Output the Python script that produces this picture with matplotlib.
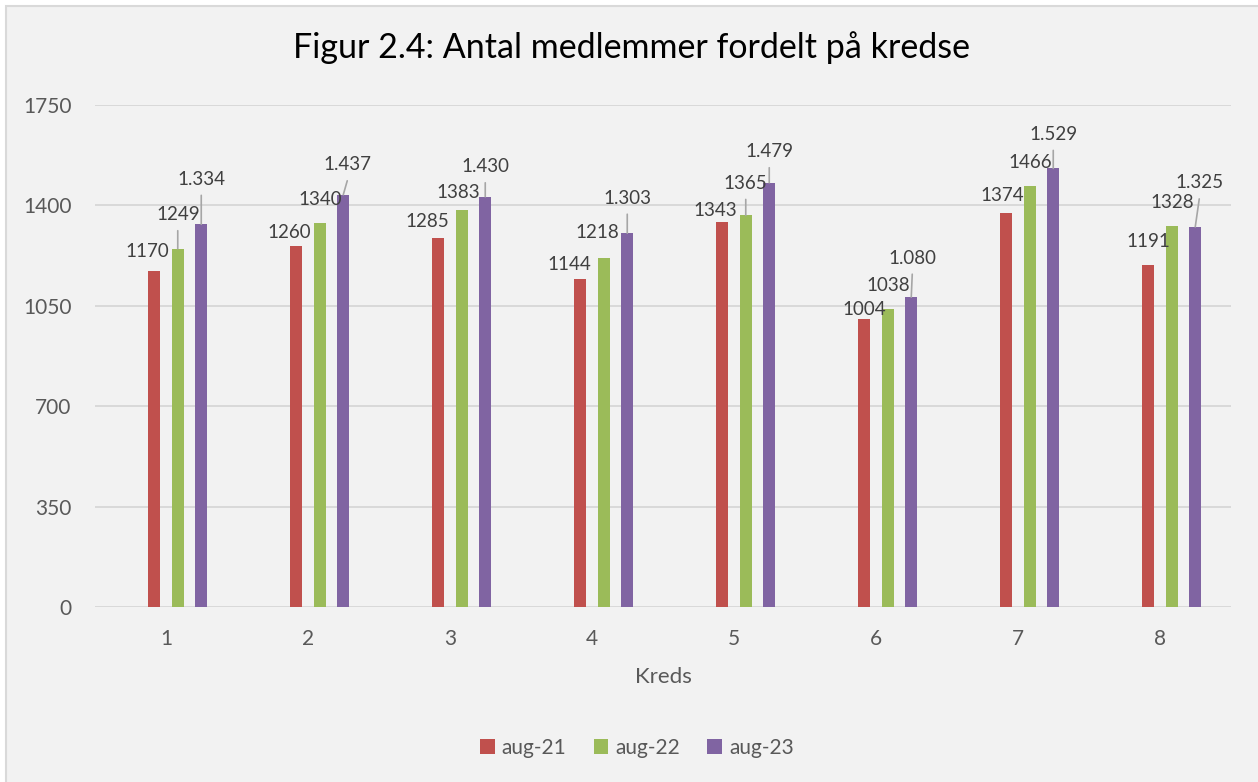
import matplotlib
matplotlib.use('Agg')
import matplotlib.pyplot as plt
import numpy as np
from matplotlib.patches import Rectangle, Patch

# ---------------- data ----------------
kredse = ['1', '2', '3', '4', '5', '6', '7', '8']
series_names = ['aug-21', 'aug-22', 'aug-23']
aug21 = [1170, 1260, 1285, 1144, 1343, 1004, 1374, 1191]
aug22 = [1249, 1340, 1383, 1218, 1365, 1038, 1466, 1328]
aug23 = [1334, 1437, 1430, 1303, 1479, 1080, 1529, 1325]
yticks = [0, 350, 700, 1050, 1400, 1750]
title = 'Figur 2.4: Antal medlemmer fordelt på kredse'
xlabel = 'Kreds'

# ---------------- style ----------------
colors = ['#C0504D', '#9BBB59', '#8064A2']
FONT = ['Lato', 'DejaVu Sans']
plt.rcParams['font.family'] = FONT

# data label offsets in pixels (dx, dy) from the bar top centre
red_off = [(-7, 20), (-7, 13), (-11, 17), (-11, 14), (-7, 11), (0, 9), (-4, 17), (0, 24)]
green_off = [(0, 34), (0, 23), (-3, 18), (-6, 25), (0, 32), (0, 24), (0, 24), (0, 24)]
purple_off = [(0, 45), (4, 30), (0, 30), (0, 35), (0, 31), (1, 39), (0, 34), (4, 44)]
green_leader = [True, False, False, False, True, False, False, False]
purple_leader = [True] * 8

W, H = 1258, 782
fig = plt.figure(figsize=(W / 100, H / 100), dpi=100, facecolor='white')

# chart area background with border (top/left visible)
bg = Rectangle((6 / W, -0.05), 1.1, (H - 6) / H + 0.05, transform=fig.transFigure,
               facecolor='#F2F2F2', edgecolor='#D9D9D9', linewidth=1.5, zorder=-10)
fig.patches.append(bg)

ax = fig.add_axes([95 / W, (H - 607) / H, (1231 - 95) / W, (607 - 105) / H])
ax.set_facecolor('none')

x = np.arange(len(kredse))
slot = 23.5 / 142.0
barw = 12.0 / 142.0
offsets = (np.arange(4) - 1.5) * slot  # first slot empty (hidden series)

all_series = [aug21, aug22, aug23]
all_offs = [red_off, green_off, purple_off]
leaders = [[False] * 8, green_leader, purple_leader]

for si, (vals, col) in enumerate(zip(all_series, colors)):
    xs = x + offsets[si + 1]
    ax.bar(xs, vals, width=barw, color=col, label=series_names[si], zorder=3)
    for i, v in enumerate(vals):
        dx, dy = all_offs[si][i]
        txt = f"{v:,}".replace(',', '.') if si == 2 else str(v)
        ax.annotate(txt, xy=(xs[i], v), xytext=(dx, dy), textcoords='offset pixels',
                    ha='center', va='center', fontsize=13.5, color='#404040', zorder=5)
        if leaders[si][i]:
            ax.annotate('', xy=(xs[i], v), xytext=(dx, dy - 16), textcoords='offset pixels',
                        arrowprops=dict(arrowstyle='-', color='#A6A6A6', lw=1.2,
                                        shrinkA=0, shrinkB=0), zorder=4)

ax.set_xlim(-0.5, len(kredse) - 0.5)
ax.set_ylim(0, 1750)
ax.set_yticks(yticks)
ax.set_yticklabels([str(t) for t in yticks])
ax.set_xticks(x)
ax.set_xticklabels(kredse)
ax.yaxis.grid(True, color='#D9D9D9', linewidth=1.4, zorder=0)
ax.set_axisbelow(True)
for s in ax.spines.values():
    s.set_visible(False)
ax.tick_params(axis='both', length=0, labelsize=15, colors='#595959')
ax.tick_params(axis='y', pad=17)
ax.tick_params(axis='x', pad=16)
ax.set_xlabel(xlabel, fontsize=16, color='#595959', labelpad=13)

fig.text(632 / W, 1 - 48 / H, title, ha='center', va='center', fontsize=24.5, color='#000000')

handles = [Patch(facecolor=c, edgecolor='none') for c in colors]
fig.legend(handles, series_names, loc='center', bbox_to_anchor=(637 / W, 1 - 748 / H),
           ncol=3, frameon=False, fontsize=15, labelcolor='#595959',
           handlelength=0.7, handleheight=0.7, handletextpad=0.35, columnspacing=1.3)

fig.savefig('out.png', dpi=100, facecolor=fig.get_facecolor())
